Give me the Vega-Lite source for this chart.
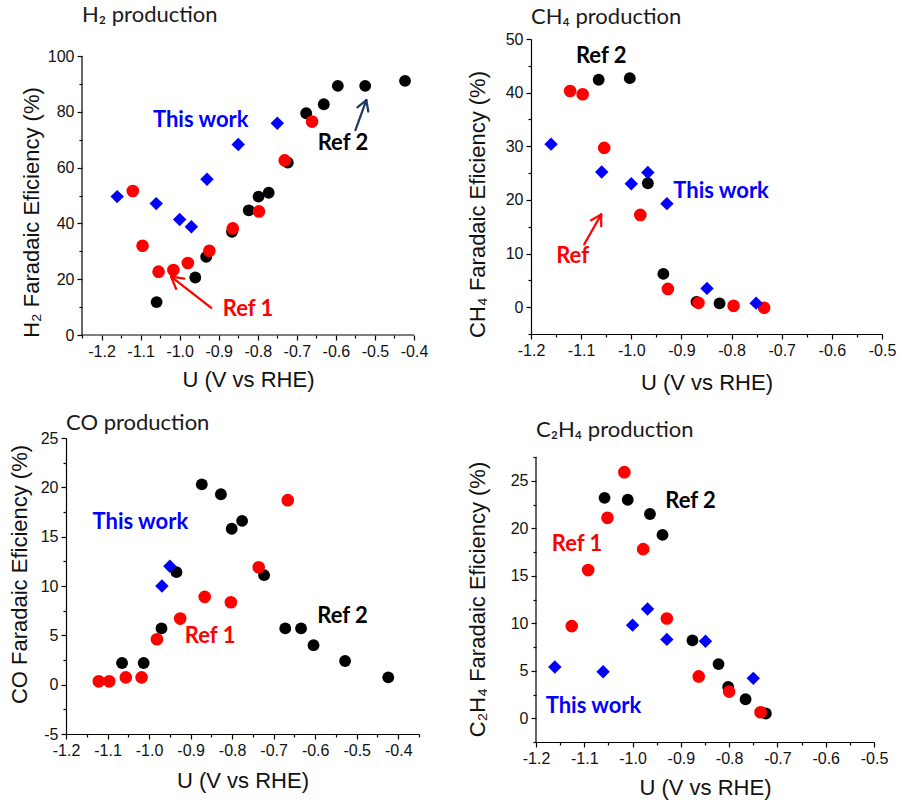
{
  "$schema": "https://vega.github.io/schema/vega-lite/v6.json",
  "background": "white",
  "padding": {"left": 8, "top": 4, "right": 5, "bottom": 2},
  "datasets": {
    "h2": [
      {"U": -1.059, "FE": 11.8, "series": "Ref 2"},
      {"U": -0.96, "FE": 20.6, "series": "Ref 2"},
      {"U": -0.932, "FE": 28.0, "series": "Ref 2"},
      {"U": -0.866, "FE": 37.0, "series": "Ref 2"},
      {"U": -0.823, "FE": 44.7, "series": "Ref 2"},
      {"U": -0.798, "FE": 49.6, "series": "Ref 2"},
      {"U": -0.772, "FE": 51.0, "series": "Ref 2"},
      {"U": -0.723, "FE": 61.8, "series": "Ref 2"},
      {"U": -0.676, "FE": 79.5, "series": "Ref 2"},
      {"U": -0.631, "FE": 82.7, "series": "Ref 2"},
      {"U": -0.595, "FE": 89.3, "series": "Ref 2"},
      {"U": -0.525, "FE": 89.3, "series": "Ref 2"},
      {"U": -0.423, "FE": 91.1, "series": "Ref 2"},
      {"U": -1.12, "FE": 51.6, "series": "Ref 1"},
      {"U": -1.095, "FE": 32.0, "series": "Ref 1"},
      {"U": -1.054, "FE": 22.7, "series": "Ref 1"},
      {"U": -1.016, "FE": 23.3, "series": "Ref 1"},
      {"U": -0.979, "FE": 25.8, "series": "Ref 1"},
      {"U": -0.924, "FE": 30.2, "series": "Ref 1"},
      {"U": -0.864, "FE": 38.2, "series": "Ref 1"},
      {"U": -0.797, "FE": 44.3, "series": "Ref 1"},
      {"U": -0.731, "FE": 62.6, "series": "Ref 1"},
      {"U": -0.661, "FE": 76.5, "series": "Ref 1"},
      {"U": -1.16, "FE": 49.6, "series": "This work"},
      {"U": -1.06, "FE": 47.1, "series": "This work"},
      {"U": -1.0, "FE": 41.4, "series": "This work"},
      {"U": -0.97, "FE": 38.8, "series": "This work"},
      {"U": -0.93, "FE": 55.8, "series": "This work"},
      {"U": -0.85, "FE": 68.3, "series": "This work"},
      {"U": -0.75, "FE": 75.9, "series": "This work"}
    ],
    "ch4": [
      {"U": -1.065, "FE": 42.4, "series": "Ref 2"},
      {"U": -1.003, "FE": 42.7, "series": "Ref 2"},
      {"U": -0.967, "FE": 23.1, "series": "Ref 2"},
      {"U": -0.936, "FE": 6.2, "series": "Ref 2"},
      {"U": -0.87, "FE": 1.0, "series": "Ref 2"},
      {"U": -0.824, "FE": 0.7, "series": "Ref 2"},
      {"U": -1.122, "FE": 40.3, "series": "Ref 1"},
      {"U": -1.097, "FE": 39.7, "series": "Ref 1"},
      {"U": -1.054, "FE": 29.7, "series": "Ref 1"},
      {"U": -0.982, "FE": 17.2, "series": "Ref 1"},
      {"U": -0.927, "FE": 3.4, "series": "Ref 1"},
      {"U": -0.866, "FE": 0.8, "series": "Ref 1"},
      {"U": -0.796, "FE": 0.25, "series": "Ref 1"},
      {"U": -0.735, "FE": -0.1, "series": "Ref 1"},
      {"U": -1.16, "FE": 30.4, "series": "This work"},
      {"U": -1.059, "FE": 25.2, "series": "This work"},
      {"U": -1.0, "FE": 23.0, "series": "This work"},
      {"U": -0.967, "FE": 25.1, "series": "This work"},
      {"U": -0.929, "FE": 19.3, "series": "This work"},
      {"U": -0.849, "FE": 3.5, "series": "This work"},
      {"U": -0.751, "FE": 0.75, "series": "This work"}
    ],
    "co": [
      {"U": -0.873, "FE": 20.3, "series": "Ref 2"},
      {"U": -0.827, "FE": 19.3, "series": "Ref 2"},
      {"U": -0.801, "FE": 15.8, "series": "Ref 2"},
      {"U": -0.776, "FE": 16.6, "series": "Ref 2"},
      {"U": -0.934, "FE": 11.4, "series": "Ref 2"},
      {"U": -0.723, "FE": 11.1, "series": "Ref 2"},
      {"U": -0.97, "FE": 5.7, "series": "Ref 2"},
      {"U": -1.065, "FE": 2.2, "series": "Ref 2"},
      {"U": -1.013, "FE": 2.2, "series": "Ref 2"},
      {"U": -0.672, "FE": 5.7, "series": "Ref 2"},
      {"U": -0.634, "FE": 5.7, "series": "Ref 2"},
      {"U": -0.604, "FE": 4.0, "series": "Ref 2"},
      {"U": -0.528, "FE": 2.4, "series": "Ref 2"},
      {"U": -0.424, "FE": 0.74, "series": "Ref 2"},
      {"U": -1.121, "FE": 0.34, "series": "Ref 1"},
      {"U": -1.096, "FE": 0.34, "series": "Ref 1"},
      {"U": -1.056, "FE": 0.74, "series": "Ref 1"},
      {"U": -1.018, "FE": 0.74, "series": "Ref 1"},
      {"U": -0.981, "FE": 4.6, "series": "Ref 1"},
      {"U": -0.925, "FE": 6.7, "series": "Ref 1"},
      {"U": -0.866, "FE": 8.9, "series": "Ref 1"},
      {"U": -0.803, "FE": 8.35, "series": "Ref 1"},
      {"U": -0.736, "FE": 11.9, "series": "Ref 1"},
      {"U": -0.666, "FE": 18.7, "series": "Ref 1"},
      {"U": -0.969, "FE": 10.0, "series": "This work"},
      {"U": -0.95, "FE": 12.0, "series": "This work"}
    ],
    "c2h4": [
      {"U": -1.058, "FE": 23.2, "series": "Ref 2"},
      {"U": -1.01, "FE": 23.0, "series": "Ref 2"},
      {"U": -0.964, "FE": 21.5, "series": "Ref 2"},
      {"U": -0.938, "FE": 19.3, "series": "Ref 2"},
      {"U": -0.876, "FE": 8.2, "series": "Ref 2"},
      {"U": -0.822, "FE": 5.7, "series": "Ref 2"},
      {"U": -0.802, "FE": 3.3, "series": "Ref 2"},
      {"U": -0.766, "FE": 2.0, "series": "Ref 2"},
      {"U": -0.724, "FE": 0.5, "series": "Ref 2"},
      {"U": -1.017, "FE": 25.9, "series": "Ref 1"},
      {"U": -1.052, "FE": 21.1, "series": "Ref 1"},
      {"U": -0.978, "FE": 17.8, "series": "Ref 1"},
      {"U": -1.092, "FE": 15.6, "series": "Ref 1"},
      {"U": -1.126, "FE": 9.7, "series": "Ref 1"},
      {"U": -0.929, "FE": 10.5, "series": "Ref 1"},
      {"U": -0.863, "FE": 4.4, "series": "Ref 1"},
      {"U": -0.8, "FE": 2.8, "series": "Ref 1"},
      {"U": -0.735, "FE": 0.63, "series": "Ref 1"},
      {"U": -1.161, "FE": 5.4, "series": "This work"},
      {"U": -1.061, "FE": 4.9, "series": "This work"},
      {"U": -1.0, "FE": 9.8, "series": "This work"},
      {"U": -0.969, "FE": 11.5, "series": "This work"},
      {"U": -0.929, "FE": 8.3, "series": "This work"},
      {"U": -0.849, "FE": 8.1, "series": "This work"},
      {"U": -0.75, "FE": 4.2, "series": "This work"}
    ],
    "axislines": [
      {"panel": "h2", "U": -1.25, "FE": 0, "U2": -1.25, "FE2": 100},
      {"panel": "h2", "U": -1.25, "FE": 0, "U2": -0.4, "FE2": 0},
      {"panel": "c2h4", "U": -1.2, "FE": -2.5, "U2": -1.2, "FE2": 27.5}
    ],
    "ann": [
      {"panel": "h2", "U": -0.946, "FE": 77.1, "label": "This work", "series": "This work"},
      {"panel": "h2", "U": -0.582, "FE": 69.0, "label": "Ref 2", "series": "Ref 2"},
      {"panel": "h2", "U": -0.825, "FE": 9.3, "label": "Ref 1", "series": "Ref 1"},
      {"panel": "ch4", "U": -1.06, "FE": 46.9, "label": "Ref 2", "series": "Ref 2"},
      {"panel": "ch4", "U": -0.821, "FE": 21.7, "label": "This work", "series": "This work"},
      {"panel": "ch4", "U": -1.117, "FE": 9.5, "label": "Ref", "series": "Ref 1"},
      {"panel": "co", "U": -1.021, "FE": 16.5, "label": "This work", "series": "This work"},
      {"panel": "co", "U": -0.853, "FE": 4.9, "label": "Ref 1", "series": "Ref 1"},
      {"panel": "co", "U": -0.534, "FE": 7.0, "label": "Ref 2", "series": "Ref 2"},
      {"panel": "c2h4", "U": -0.88, "FE": 22.9, "label": "Ref 2", "series": "Ref 2"},
      {"panel": "c2h4", "U": -1.115, "FE": 18.3, "label": "Ref 1", "series": "Ref 1"},
      {"panel": "c2h4", "U": -1.081, "FE": 1.3, "label": "This work", "series": "This work"}
    ],
    "arrows": [
      {"panel": "h2", "U": -0.919, "FE": 9.7, "U2": -1.022, "FE2": 20.9, "series": "Ref 1"},
      {"panel": "h2", "U": -1.022, "FE": 20.9, "U2": -0.988, "FE2": 20.2, "series": "Ref 1"},
      {"panel": "h2", "U": -1.022, "FE": 20.9, "U2": -1.009, "FE2": 16.5, "series": "Ref 1"},
      {"panel": "h2", "U": -0.55, "FE": 73.4, "U2": -0.522, "FE2": 84.2, "series": "Ref 2"},
      {"panel": "h2", "U": -0.522, "FE": 84.2, "U2": -0.517, "FE2": 80.1, "series": "Ref 2"},
      {"panel": "h2", "U": -0.522, "FE": 84.2, "U2": -0.545, "FE2": 81.6, "series": "Ref 2"},
      {"panel": "ch4", "U": -1.094, "FE": 11.7, "U2": -1.06, "FE2": 17.3, "series": "Ref 1"},
      {"panel": "ch4", "U": -1.06, "FE": 17.3, "U2": -1.06, "FE2": 15.1, "series": "Ref 1"},
      {"panel": "ch4", "U": -1.06, "FE": 17.3, "U2": -1.08, "FE2": 16.2, "series": "Ref 1"}
    ]
  },
  "concat": [
    {
      "width": 348,
      "height": 296,
      "title": {"text": "H₂ production", "offset": 12, "dx": 16},
      "encoding": {
        "x": {"field": "U", "type": "quantitative",
          "scale": {"domain": [-1.291, -0.4], "nice": false, "zero": false},
          "axis": {"title": "U (V vs RHE)", "titlePadding": 10, "domain": false, "titleX": 182,
            "values": [-1.25, -1.2, -1.15, -1.1, -1.05, -1.0, -0.95, -0.9, -0.85, -0.8, -0.75, -0.7, -0.65, -0.6, -0.55, -0.5, -0.45, -0.4],
            "labelExpr": "abs(datum.value*10 - round(datum.value*10)) < 0.001 ? replace(format(datum.value, '.1f'), '−', '-') : ''",
            "tickSize": {"condition": {"test": "abs(datum.value*10 - round(datum.value*10)) < 0.001", "value": 5}, "value": 3}}},
        "y": {"field": "FE", "type": "quantitative",
          "scale": {"domain": [0, 106.1], "nice": false, "zero": false},
          "axis": {"title": "H₂ Faradaic Eficiency (%)", "offset": -16, "titleY": 173,
            "values": [0, 10, 20, 30, 40, 50, 60, 70, 80, 90, 100],
            "labelExpr": "datum.value % 20 == 0 ? replace(datum.label, '−', '-') : ''",
            "titlePadding": 4, "domain": false,
            "tickSize": {"condition": {"test": "datum.value % 20 == 0", "value": 5}, "value": 3}}}
      },
      "layer": [
        {"data": {"name": "axislines"}, "transform": [{"filter": "datum.panel == 'h2'"}],
          "mark": {"type": "rule", "color": "#000000", "strokeWidth": 1.2},
          "encoding": {"x2": {"field": "U2"}, "y2": {"field": "FE2"}}},
        {"data": {"name": "h2"}, "mark": {"type": "point", "filled": true, "opacity": 1},
          "encoding": {
            "color": {"field": "series", "type": "nominal", "scale": {"domain": ["This work", "Ref 1", "Ref 2"], "range": ["#0000ff", "#ff0000", "#000000"]}, "legend": null},
            "shape": {"field": "series", "type": "nominal", "scale": {"domain": ["This work", "Ref 1", "Ref 2"], "range": ["diamond", "circle", "circle"]}, "legend": null},
            "size": {"field": "series", "type": "nominal", "scale": {"domain": ["This work", "Ref 1", "Ref 2"], "range": [180, 140, 140]}, "legend": null}}},
        {"data": {"name": "ann"}, "transform": [{"filter": "datum.panel == 'h2'"}],
          "mark": {"type": "text", "font": "Lato", "fontWeight": "bold", "fontSize": 22},
          "encoding": {"text": {"field": "label"},
            "color": {"field": "series", "type": "nominal", "scale": {"domain": ["This work", "Ref 1", "Ref 2"], "range": ["#0000ff", "#ff0000", "#000000"]}, "legend": null}}},
        {"data": {"name": "arrows"}, "transform": [{"filter": "datum.panel == 'h2'"}],
          "mark": {"type": "rule", "strokeWidth": 2.2, "strokeCap": "round"},
          "encoding": {"x2": {"field": "U2"}, "y2": {"field": "FE2"},
            "color": {"field": "series", "type": "nominal", "scale": {"domain": ["Ref 1", "Ref 2"], "range": ["#ff0000", "#1f3864"]}, "legend": null}}}
      ],
      "resolve": {"scale": {"color": "independent"}}
    },
    {
      "width": 351,
      "height": 295,
      "title": {"text": "CH₄ production", "offset": 2},
      "encoding": {
        "x": {"field": "U", "type": "quantitative",
          "scale": {"domain": [-1.2, -0.5], "nice": false, "zero": false},
          "axis": {"title": "U (V vs RHE)", "titlePadding": 14,
            "values": [-1.2, -1.15, -1.1, -1.05, -1.0, -0.95, -0.9, -0.85, -0.8, -0.75, -0.7, -0.65, -0.6, -0.55, -0.5],
            "labelExpr": "abs(datum.value*10 - round(datum.value*10)) < 0.001 ? replace(format(datum.value, '.1f'), '−', '-') : ''",
            "tickSize": {"condition": {"test": "abs(datum.value*10 - round(datum.value*10)) < 0.001", "value": 5}, "value": 3}}},
        "y": {"field": "FE", "type": "quantitative",
          "scale": {"domain": [-5, 50], "nice": false, "zero": false},
          "axis": {"title": "CH₄ Faradaic Eficiency (%)", "titleY": 165,
            "values": [-5, 0, 5, 10, 15, 20, 25, 30, 35, 40, 45, 50],
            "labelExpr": "datum.value % 10 == 0 ? replace(datum.label, '−', '-') : ''",
            "titlePadding": 16,
            "tickSize": {"condition": {"test": "datum.value % 10 == 0", "value": 5}, "value": 3}}}
      },
      "layer": [
        {"data": {"name": "ch4"}, "mark": {"type": "point", "filled": true, "opacity": 1},
          "encoding": {
            "color": {"field": "series", "type": "nominal", "scale": {"domain": ["This work", "Ref 1", "Ref 2"], "range": ["#0000ff", "#ff0000", "#000000"]}, "legend": null},
            "shape": {"field": "series", "type": "nominal", "scale": {"domain": ["This work", "Ref 1", "Ref 2"], "range": ["diamond", "circle", "circle"]}, "legend": null},
            "size": {"field": "series", "type": "nominal", "scale": {"domain": ["This work", "Ref 1", "Ref 2"], "range": [180, 140, 140]}, "legend": null}}},
        {"data": {"name": "ann"}, "transform": [{"filter": "datum.panel == 'ch4'"}],
          "mark": {"type": "text", "font": "Lato", "fontWeight": "bold", "fontSize": 22},
          "encoding": {"text": {"field": "label"},
            "color": {"field": "series", "type": "nominal", "scale": {"domain": ["This work", "Ref 1", "Ref 2"], "range": ["#0000ff", "#ff0000", "#000000"]}, "legend": null}}},
        {"data": {"name": "arrows"}, "transform": [{"filter": "datum.panel == 'ch4'"}],
          "mark": {"type": "rule", "strokeWidth": 2.2, "strokeCap": "round"},
          "encoding": {"x2": {"field": "U2"}, "y2": {"field": "FE2"},
            "color": {"field": "series", "type": "nominal", "scale": {"domain": ["Ref 1", "Ref 2"], "range": ["#ff0000", "#1f3864"]}, "legend": null}}}
      ],
      "resolve": {"scale": {"color": "independent"}}
    },
    {
      "width": 353,
      "height": 296,
      "title": {"text": "CO production", "offset": -5},
      "encoding": {
        "x": {"field": "U", "type": "quantitative",
          "scale": {"domain": [-1.2, -0.35], "nice": false, "zero": false},
          "axis": {"title": "U (V vs RHE)", "titlePadding": 12,
            "values": [-1.2, -1.15, -1.1, -1.05, -1.0, -0.95, -0.9, -0.85, -0.8, -0.75, -0.7, -0.65, -0.6, -0.55, -0.5, -0.45, -0.4, -0.35],
            "labelExpr": "abs(datum.value*10 - round(datum.value*10)) < 0.001 ? replace(format(datum.value, '.1f'), '−', '-') : ''",
            "tickSize": {"condition": {"test": "abs(datum.value*10 - round(datum.value*10)) < 0.001", "value": 5}, "value": 3}}},
        "y": {"field": "FE", "type": "quantitative",
          "scale": {"domain": [-5, 25], "nice": false, "zero": false},
          "axis": {"title": "CO Faradaic Eficiency (%)", "titleY": 136,
            "values": [-5, -2.5, 0, 2.5, 5, 7.5, 10, 12.5, 15, 17.5, 20, 22.5, 25],
            "labelExpr": "datum.value % 5 == 0 ? replace(datum.label, '−', '-') : ''",
            "titlePadding": 9,
            "tickSize": {"condition": {"test": "datum.value % 5 == 0", "value": 5}, "value": 3}}}
      },
      "layer": [
        {"data": {"name": "co"}, "mark": {"type": "point", "filled": true, "opacity": 1},
          "encoding": {
            "color": {"field": "series", "type": "nominal", "scale": {"domain": ["This work", "Ref 1", "Ref 2"], "range": ["#0000ff", "#ff0000", "#000000"]}, "legend": null},
            "shape": {"field": "series", "type": "nominal", "scale": {"domain": ["This work", "Ref 1", "Ref 2"], "range": ["diamond", "circle", "circle"]}, "legend": null},
            "size": {"field": "series", "type": "nominal", "scale": {"domain": ["This work", "Ref 1", "Ref 2"], "range": [180, 140, 140]}, "legend": null}}},
        {"data": {"name": "ann"}, "transform": [{"filter": "datum.panel == 'co'"}],
          "mark": {"type": "text", "font": "Lato", "fontWeight": "bold", "fontSize": 22},
          "encoding": {"text": {"field": "label"},
            "color": {"field": "series", "type": "nominal", "scale": {"domain": ["This work", "Ref 1", "Ref 2"], "range": ["#0000ff", "#ff0000", "#000000"]}, "legend": null}}}
      ]
    },
    {
      "width": 338,
      "height": 304,
      "title": {"text": "C₂H₄ production", "offset": -4},
      "encoding": {
        "x": {"field": "U", "type": "quantitative",
          "scale": {"domain": [-1.2, -0.5], "nice": false, "zero": false},
          "axis": {"title": "U (V vs RHE)", "titlePadding": 11,
            "values": [-1.2, -1.15, -1.1, -1.05, -1.0, -0.95, -0.9, -0.85, -0.8, -0.75, -0.7, -0.65, -0.6, -0.55, -0.5],
            "labelExpr": "abs(datum.value*10 - round(datum.value*10)) < 0.001 ? replace(format(datum.value, '.1f'), '−', '-') : ''",
            "tickSize": {"condition": {"test": "abs(datum.value*10 - round(datum.value*10)) < 0.001", "value": 5}, "value": 3}}},
        "y": {"field": "FE", "type": "quantitative",
          "scale": {"domain": [-2.5, 29.5], "nice": false, "zero": false},
          "axis": {"title": "C₂H₄ Faradaic Eficiency (%)",
            "values": [-2.5, 0, 2.5, 5, 7.5, 10, 12.5, 15, 17.5, 20, 22.5, 25, 27.5],
            "labelExpr": "datum.value % 5 == 0 ? replace(datum.label, '−', '-') : ''",
            "titlePadding": 21, "domain": false, "titleY": 161,
            "tickSize": {"condition": {"test": "datum.value % 5 == 0", "value": 5}, "value": 3}}}
      },
      "layer": [
        {"data": {"name": "axislines"}, "transform": [{"filter": "datum.panel == 'c2h4'"}],
          "mark": {"type": "rule", "color": "#000000", "strokeWidth": 1.2},
          "encoding": {"x2": {"field": "U2"}, "y2": {"field": "FE2"}}},
        {"data": {"name": "c2h4"}, "mark": {"type": "point", "filled": true, "opacity": 1},
          "encoding": {
            "color": {"field": "series", "type": "nominal", "scale": {"domain": ["This work", "Ref 1", "Ref 2"], "range": ["#0000ff", "#ff0000", "#000000"]}, "legend": null},
            "shape": {"field": "series", "type": "nominal", "scale": {"domain": ["This work", "Ref 1", "Ref 2"], "range": ["diamond", "circle", "circle"]}, "legend": null},
            "size": {"field": "series", "type": "nominal", "scale": {"domain": ["This work", "Ref 1", "Ref 2"], "range": [180, 140, 140]}, "legend": null}}},
        {"data": {"name": "ann"}, "transform": [{"filter": "datum.panel == 'c2h4'"}],
          "mark": {"type": "text", "font": "Lato", "fontWeight": "bold", "fontSize": 22},
          "encoding": {"text": {"field": "label"},
            "color": {"field": "series", "type": "nominal", "scale": {"domain": ["This work", "Ref 1", "Ref 2"], "range": ["#0000ff", "#ff0000", "#000000"]}, "legend": null}}}
      ]
    }
  ],
  "columns": 2,
  "align": {"row": "each", "column": "none"},
  "spacing": {"row": 19, "column": 38},
  "config": {
    "view": {"stroke": null},
    "axis": {
      "grid": false,
      "domainColor": "#000000",
      "domainWidth": 1.2,
      "tickColor": "#000000",
      "tickWidth": 1.2,
      "labelColor": "#111111",
      "titleColor": "#111111",
      "labelFont": "Liberation Sans",
      "titleFont": "Liberation Sans",
      "labelFontSize": 16,
      "titleFontSize": 22,
      "titleFontWeight": "normal",
      "labelFlush": false,
      "labelOverlap": false,
      "labelPadding": 3,
      "titlePadding": 8
    },
    "title": {
      "anchor": "start",
      "frame": "group",
      "font": "Lato",
      "fontSize": 22,
      "fontWeight": "normal",
      "color": "#1a1a1a"
    }
  }
}
